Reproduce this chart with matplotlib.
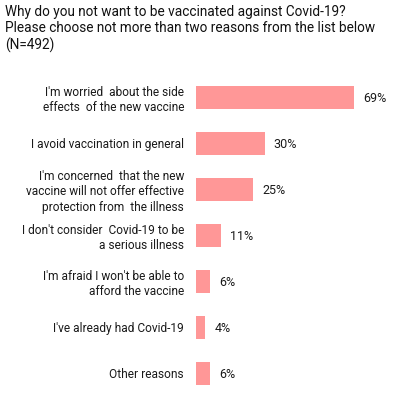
import matplotlib.pyplot as plt

plt.rcParams['font.family'] = ['Roboto', 'DejaVu Sans']

# data
reasons = [
    "I'm worried  about the side\neffects  of the new vaccine",
    "I avoid vaccination in general",
    "I'm concerned  that the new\nvaccine will not offer effective\nprotection from  the illness",
    "I don't consider  Covid-19 to be\na serious illness",
    "I'm afraid I won't be able to\nafford the vaccine",
    "I've already had Covid-19",
    "Other reasons",
]
shares = [69, 30, 25, 11, 6, 4, 6]

title = ("Why do you not want to be vaccinated against Covid-19?\n"
         "Please choose not more than two reasons from the list below\n"
         "(N=492)")

W, H = 396, 415
fig = plt.figure(figsize=(W / 100, H / 100), dpi=100)

# axes placed in pixel terms: bars start at x=196, rows 46 px apart
ax = fig.add_axes([196 / W, (H - 396) / H, 190 / W, 322 / H])
ypos = list(range(len(shares)))
ax.barh(ypos, shares, height=0.5, color='#ff9797')
ax.set_xlim(0, 190 / 2.29)
ax.set_ylim(len(shares) - 0.5, -0.5)

ax.set_yticks(ypos)
ax.set_yticklabels(reasons, fontsize=8.6, color='#1a1a1a', linespacing=1.25)
ax.tick_params(axis='y', length=0, pad=8.6)
ax.set_xticks([])
for s in ax.spines.values():
    s.set_visible(False)

for y, v in zip(ypos, shares):
    ax.annotate(f"{v}%", (v, y), xytext=(6.5, -1), textcoords='offset points',
                va='center', ha='left', fontsize=9, color='#1a1a1a')

fig.text(5 / W, 1 - 5 / H, title, ha='left', va='top', fontsize=9.8,
         color='#111111', linespacing=1.22)

fig.savefig('out.png', dpi=100)
